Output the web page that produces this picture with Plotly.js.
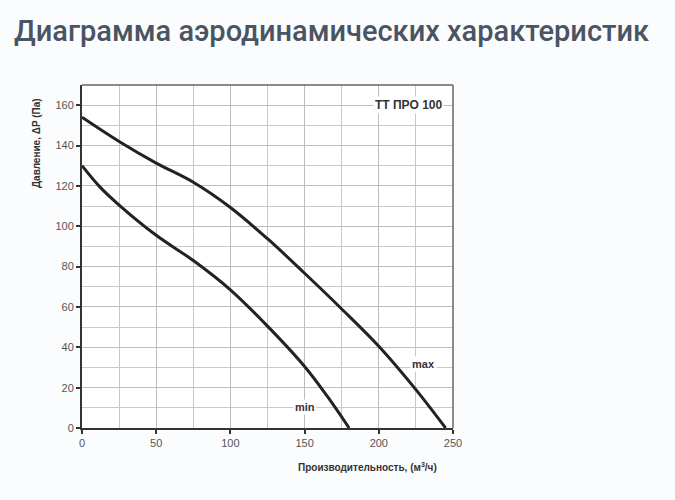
<!DOCTYPE html>
<html>
<head>
<meta charset="utf-8">
<script src="https://cdn.plot.ly/plotly-3.0.1.min.js"></script>
<style>
  html, body { margin: 0; padding: 0; background: #fbfcfd; }
  #chart { width: 675px; height: 500px; }
</style>
</head>
<body>
<div id="chart"></div>
<script>
// Data
const maxFlow = [0, 25, 50, 75, 100, 125, 150, 175, 200, 225, 245];
const maxPressure = [154, 142, 131.3, 121.8, 109.3, 93.8, 76.7, 59, 40.5, 19, 0];
const minFlow = [0, 12, 25, 50, 75, 100, 125, 150, 165, 180];
const minPressure = [130, 119.5, 110.5, 95.5, 83, 68.5, 50.5, 30.5, 16, 0];

const chartTitle = 'Диаграмма аэродинамических характеристик';
const modelLabel = 'ТТ ПРО 100';
const xTitle = 'Производительность, (м<sup>3</sup>/ч)';
const yTitle = 'Давление, ΔP (Па)';
const curveNames = ['max', 'min'];

const lineStyle = { color: '#222', width: 3, shape: 'spline', smoothing: 1 };

const traces = [
  { x: maxFlow, y: maxPressure, mode: 'lines', line: lineStyle, name: curveNames[0], hoverinfo: 'x+y' },
  { x: minFlow, y: minPressure, mode: 'lines', line: lineStyle, name: curveNames[1], hoverinfo: 'x+y' }
];

const tickFont = { family: 'Liberation Sans, Arial, sans-serif', size: 11, color: '#555' };
const labelFont = { family: 'Liberation Sans, Arial, sans-serif', size: 11, color: '#333', weight: 'bold' };

const layout = {
  width: 675, height: 500,
  paper_bgcolor: '#fbfcfd',
  plot_bgcolor: '#ffffff',
  showlegend: false,
  margin: { l: 82, r: 222, t: 85, b: 72 },
  title: {
    text: chartTitle,
    font: { family: 'Roboto, sans-serif', size: 29, color: '#4a5462', weight: 500 },
    x: 14 / 675, xanchor: 'left', xref: 'container',
    y: 0.938, yanchor: 'middle', yref: 'container'
  },
  xaxis: {
    range: [0, 250], dtick: 50, tick0: 0,
    showgrid: true, gridcolor: '#bdbdbd', gridwidth: 1,
    minor: { dtick: 25, showgrid: true, gridcolor: '#c8c8c8', gridwidth: 1 },
    showline: true, linecolor: '#333', linewidth: 2,
    ticks: 'outside', ticklen: 4, tickwidth: 2, tickcolor: '#333',
    tickfont: tickFont, zeroline: false, fixedrange: true
  },
  yaxis: {
    range: [0, 170], dtick: 20, tick0: 0,
    showgrid: true, gridcolor: '#bdbdbd', gridwidth: 1,
    minor: { dtick: 10, showgrid: true, gridcolor: '#c8c8c8', gridwidth: 1 },
    showline: true, linecolor: '#333', linewidth: 2,
    ticks: 'outside', ticklen: 4, tickwidth: 2, tickcolor: '#333',
    tickfont: tickFont, zeroline: false, fixedrange: true
  },
  shapes: [
    { type: 'line', xref: 'paper', yref: 'paper', x0: 0, x1: 1, y0: 1, y1: 1, line: { color: '#666', width: 1.5 } },
    { type: 'line', xref: 'paper', yref: 'paper', x0: 1, x1: 1, y0: 0, y1: 1, line: { color: '#666', width: 1.5 } }
  ],
  annotations: [
    { text: modelLabel, xref: 'paper', yref: 'y', x: 0.975, y: 160, xanchor: 'right', yanchor: 'middle',
      showarrow: false, bgcolor: '#ffffff', font: { family: 'Liberation Sans, Arial, sans-serif', size: 12, color: '#333', weight: 'bold' } },
    { text: curveNames[0], xref: 'x', yref: 'y', x: 230, y: 31.5, xanchor: 'center', yanchor: 'middle',
      showarrow: false, bgcolor: '#ffffff', font: labelFont },
    { text: curveNames[1], xref: 'x', yref: 'y', x: 150, y: 10.5, xanchor: 'center', yanchor: 'middle',
      showarrow: false, bgcolor: '#ffffff', font: labelFont },
    { text: xTitle, xref: 'paper', yref: 'paper', x: 0.77, y: -0.115, xanchor: 'center', yanchor: 'middle',
      showarrow: false, font: { family: 'Liberation Sans, Arial, sans-serif', size: 10, color: '#333', weight: 'bold' } },
    { text: yTitle, xref: 'paper', yref: 'paper', x: -0.122, y: 0.83, xanchor: 'center', yanchor: 'middle',
      textangle: -90, showarrow: false, font: { family: 'Liberation Sans, Arial, sans-serif', size: 10, color: '#333', weight: 'bold' } }
  ]
};

Plotly.newPlot('chart', traces, layout, { displayModeBar: false, staticPlot: true });
</script>
</body>
</html>
